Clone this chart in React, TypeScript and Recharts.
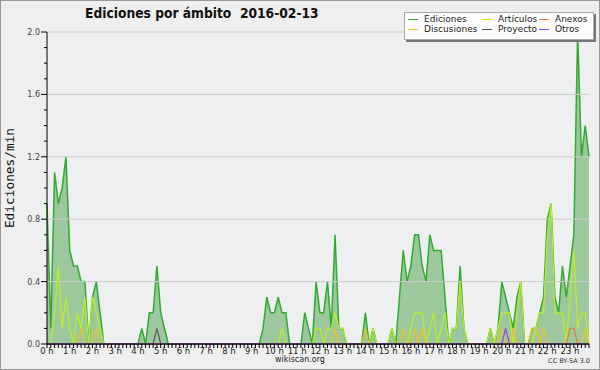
import { ComposedChart, Area, Line, XAxis, YAxis, ReferenceLine, CartesianGrid } from "recharts";

// one value per 10-minute slot, 144 slots (00:00 .. 23:50), edits/min
const ediciones = [
  0.9, 0.1, 1.1, 0.9, 1.0, 1.2, 0.6, 0.5, 0.5, 0.4, 0.4, 0,
  0.3, 0.4, 0.2, 0, 0, 0, 0, 0, 0, 0, 0, 0,
  0, 0.1, 0, 0.2, 0.2, 0.5, 0.2, 0.1, 0, 0, 0, 0,
  0, 0, 0, 0, 0, 0, 0, 0, 0, 0, 0, 0,
  0, 0, 0, 0, 0, 0, 0, 0, 0, 0.1, 0.3, 0.2,
  0.2, 0.3, 0.2, 0.2, 0, 0, 0, 0, 0.2, 0.1, 0, 0.4,
  0.2, 0.2, 0.4, 0.1, 0.7, 0.1, 0.1, 0, 0, 0, 0, 0,
  0.2, 0, 0.1, 0, 0, 0, 0, 0.1, 0, 0.3, 0.6, 0.4,
  0.5, 0.7, 0.7, 0.5, 0.4, 0.7, 0.6, 0.6, 0.6, 0.3, 0, 0.1,
  0.1, 0.5, 0.1, 0, 0, 0, 0, 0, 0, 0.1, 0, 0.1,
  0.4, 0.3, 0.2, 0.1, 0.3, 0.4, 0, 0, 0.1, 0.1, 0.2, 0.3,
  0.8, 0.9, 0.3, 0.2, 0.5, 0.3, 0.5, 0.7, 2.0, 1.2, 1.4, 1.2,
];

const articulos = [
  0, 0, 0.2, 0.5, 0.1, 0.3, 0.1, 0, 0.2, 0.1, 0.3, 0,
  0.3, 0.2, 0.1, 0, 0, 0, 0, 0, 0, 0, 0, 0,
  0, 0, 0, 0, 0, 0, 0, 0, 0, 0, 0, 0,
  0, 0, 0, 0, 0, 0, 0, 0, 0, 0, 0, 0,
  0, 0, 0, 0, 0, 0, 0, 0, 0, 0, 0, 0,
  0, 0, 0.1, 0, 0, 0, 0, 0, 0, 0, 0, 0.1,
  0.1, 0, 0.1, 0.1, 0.2, 0.1, 0.1, 0, 0, 0, 0, 0,
  0, 0, 0.1, 0, 0, 0, 0, 0.1, 0, 0, 0, 0,
  0.1, 0.2, 0.2, 0.2, 0, 0.1, 0.2, 0, 0.1, 0.2, 0, 0.1,
  0.1, 0.4, 0.1, 0, 0, 0, 0, 0, 0, 0.1, 0, 0.1,
  0.2, 0.2, 0.2, 0, 0.2, 0.4, 0, 0, 0, 0.1, 0.2, 0.2,
  0.7, 0.9, 0.2, 0.2, 0.2, 0, 0.3, 0.6, 0.1, 0.2, 0.2, 0,
];

const discusiones = [
  0, 0, 0, 0, 0, 0, 0, 0, 0, 0.1, 0, 0,
  0, 0.1, 0, 0, 0, 0, 0, 0, 0, 0, 0, 0,
  0, 0, 0, 0, 0, 0, 0, 0, 0, 0, 0, 0,
  0, 0, 0, 0, 0, 0, 0, 0, 0, 0, 0, 0,
  0, 0, 0, 0, 0, 0, 0, 0, 0, 0, 0, 0,
  0, 0, 0, 0, 0, 0, 0, 0, 0, 0, 0, 0,
  0, 0, 0, 0, 0.1, 0, 0, 0, 0, 0, 0, 0,
  0.1, 0, 0, 0, 0, 0, 0, 0, 0, 0, 0.1, 0,
  0, 0.1, 0, 0.1, 0, 0, 0, 0, 0, 0, 0, 0,
  0, 0, 0, 0, 0, 0, 0, 0, 0, 0, 0, 0,
  0.1, 0, 0, 0.1, 0, 0, 0, 0, 0.1, 0.1, 0, 0.1,
  0, 0, 0, 0, 0, 0, 0, 0, 0, 0, 0.1, 0,
];

const anexos = [
  0, 0, 0, 0, 0, 0, 0, 0, 0, 0, 0, 0,
  0, 0, 0, 0, 0, 0, 0, 0, 0, 0, 0, 0,
  0, 0, 0, 0, 0, 0, 0, 0, 0, 0, 0, 0,
  0, 0, 0, 0, 0, 0, 0, 0, 0, 0, 0, 0,
  0, 0, 0, 0, 0, 0, 0, 0, 0, 0, 0, 0,
  0, 0, 0, 0, 0, 0, 0, 0, 0, 0, 0, 0,
  0, 0, 0, 0, 0, 0, 0, 0, 0, 0, 0, 0,
  0, 0, 0, 0, 0, 0, 0, 0, 0, 0, 0, 0,
  0, 0, 0, 0, 0, 0, 0, 0, 0, 0, 0, 0,
  0, 0, 0, 0, 0, 0, 0, 0, 0, 0, 0, 0,
  0, 0, 0, 0, 0, 0, 0, 0, 0, 0, 0, 0,
  0, 0, 0, 0, 0, 0, 0.1, 0.1, 0, 0, 0, 0,
];

const proyecto = [
  0, 0, 0, 0, 0, 0, 0, 0, 0, 0, 0, 0,
  0, 0, 0, 0, 0, 0, 0, 0, 0, 0, 0, 0,
  0, 0, 0, 0, 0, 0.1, 0, 0, 0, 0, 0, 0,
  0, 0, 0, 0, 0, 0, 0, 0, 0, 0, 0, 0,
  0, 0, 0, 0, 0, 0, 0, 0, 0, 0, 0, 0,
  0, 0, 0, 0, 0, 0, 0, 0, 0, 0, 0, 0,
  0, 0, 0, 0, 0, 0, 0, 0, 0, 0, 0, 0,
  0, 0, 0, 0, 0, 0, 0, 0, 0, 0, 0, 0,
  0, 0, 0, 0, 0, 0, 0, 0, 0, 0, 0, 0,
  0, 0, 0, 0, 0, 0, 0, 0, 0, 0, 0, 0,
  0, 0, 0, 0, 0, 0, 0, 0, 0, 0, 0, 0,
  0, 0, 0, 0, 0, 0, 0, 0, 0, 0, 0, 0,
];

const otros = [
  0, 0, 0, 0, 0, 0, 0, 0, 0, 0, 0, 0,
  0, 0, 0, 0, 0, 0, 0, 0, 0, 0, 0, 0,
  0, 0, 0, 0, 0, 0, 0, 0, 0, 0, 0, 0,
  0, 0, 0, 0, 0, 0, 0, 0, 0, 0, 0, 0,
  0, 0, 0, 0, 0, 0, 0, 0, 0, 0, 0, 0,
  0, 0, 0, 0, 0, 0, 0, 0, 0, 0, 0, 0,
  0, 0, 0, 0, 0, 0, 0, 0, 0, 0, 0, 0,
  0, 0, 0, 0, 0, 0, 0, 0, 0, 0, 0, 0,
  0, 0, 0, 0, 0, 0, 0, 0, 0, 0, 0, 0,
  0, 0, 0, 0, 0, 0, 0, 0, 0, 0, 0, 0,
  0, 0.1, 0, 0, 0, 0, 0, 0, 0, 0, 0, 0,
  0, 0, 0, 0, 0, 0, 0, 0, 0, 0, 0, 0,
];

const hourLabels = [
  "0 h", "1 h", "2 h", "3 h", "4 h", "5 h", "6 h", "7 h", "8 h", "9 h", "10 h", "11 h",
  "12 h", "13 h", "14 h", "15 h", "16 h", "17 h", "18 h", "19 h", "20 h", "21 h", "22 h", "23 h",
];
const yTicks = [0, 0.1, 0.2, 0.3, 0.4, 0.5, 0.6, 0.7, 0.8, 0.9, 1.0, 1.1, 1.2, 1.3, 1.4, 1.5, 1.6, 1.7, 1.8, 1.9, 2.0];
const gridValues = [0.4, 0.8, 1.2, 1.6, 2.0];

const SLOTS_PER_HOUR = 6;
const slots = ediciones.map((_, i) => i);

const series = [
  { key: "ed", name: "Ediciones", color: "#33aa33" },
  { key: "art", name: "Artículos", color: "#bbee22" },
  { key: "anx", name: "Anexos", color: "#ee7733" },
  { key: "disc", name: "Discusiones", color: "#eec222" },
  { key: "proj", name: "Proyecto", color: "#555555" },
  { key: "otr", name: "Otros", color: "#8844ee" },
];

const chartData = slots.map(i => ({
  i,
  ed: ediciones[i],
  art: articulos[i],
  disc: discusiones[i],
  anx: anexos[i],
  proj: proyecto[i],
  otr: otros[i],
}));

const FONT = "'DejaVu Sans', sans-serif";

const XTick = (props: any) => {
  const { x, y, payload } = props;
  const v = payload.value;
  const major = v % SLOTS_PER_HOUR === 0;
  return (
    <g>
      <line x1={x} x2={x} y1={y} y2={y + 4} stroke="#000" />
      {major && (
        <text x={x} y={y + 10} textAnchor="middle" fontSize={8.5} fill="#222" fontFamily={FONT}>
          {hourLabels[v / SLOTS_PER_HOUR]}
        </text>
      )}
    </g>
  );
};

const YTick = (props: any) => {
  const { x, y, payload } = props;
  const v = payload.value;
  const major = Math.round(v * 10) % 4 === 0;
  return (
    <g>
      <line x1={x - (major ? 6 : 3)} x2={x} y1={y} y2={y} stroke="#000" />
      {major && (
        <text x={x - 7} y={y + 3} textAnchor="end" fontSize={8} fill="#444" fontFamily={FONT}>
          {v.toFixed(1)}
        </text>
      )}
    </g>
  );
};

const App = () => {
  return (
    <div style={{ position: "relative", width: 600, height: 370, background: "#efefef", fontFamily: FONT }}>
      <style>{"body{margin:0}"}</style>
      <ComposedChart width={600} height={370} data={chartData} margin={{ top: 32, right: 11, bottom: 0, left: 0 }}>
        <CartesianGrid horizontal={false} vertical={false} fill="#eeeff1" />
        {gridValues.map(v => (
          <ReferenceLine key={v} y={v} stroke="#cccccc" strokeWidth={1} />
        ))}
        <XAxis
          dataKey="i"
          type="number"
          domain={[0, slots.length - 1]}
          ticks={slots}
          interval={0}
          height={26}
          tickSize={0}
          tickMargin={0}
          tickLine={false}
          axisLine={{ stroke: "#000" }}
          tick={<XTick />}
        />
        <YAxis
          type="number"
          domain={[0, 2]}
          ticks={yTicks}
          interval={0}
          width={47}
          tickSize={0}
          tickMargin={0}
          tickLine={false}
          axisLine={{ stroke: "#000" }}
          tick={<YTick />}
        />
        <Area
          type="linear"
          dataKey="ed"
          stroke="#33aa33"
          strokeWidth={1.5}
          fill="#3a9a3a"
          fillOpacity={0.45}
          dot={false}
          activeDot={false}
          isAnimationActive={false}
        />
        <Line type="linear" dataKey="art" stroke="#bbee22" strokeWidth={1.2} dot={false} activeDot={false} isAnimationActive={false} />
        <Line type="linear" dataKey="disc" stroke="#eec222" strokeWidth={1.2} dot={false} activeDot={false} isAnimationActive={false} />
        <Line type="linear" dataKey="anx" stroke="#ee7733" strokeWidth={1.2} dot={false} activeDot={false} isAnimationActive={false} />
        <Line type="linear" dataKey="proj" stroke="#555555" strokeWidth={1.2} dot={false} activeDot={false} isAnimationActive={false} />
        <Line type="linear" dataKey="otr" stroke="#8844ee" strokeWidth={1.2} dot={false} activeDot={false} isAnimationActive={false} />
      </ComposedChart>

      <div
        style={{
          position: "absolute",
          left: 85,
          top: 5,
          fontFamily: "'DejaVu Sans Condensed', 'DejaVu Sans', sans-serif",
          fontStretch: "condensed",
          fontSize: 13.7,
          fontWeight: "bold",
          color: "#111",
          whiteSpace: "pre",
        }}
      >
        {"Ediciones por ámbito  2016-02-13"}
      </div>

      <div
        style={{
          position: "absolute",
          left: 0,
          top: 178,
          transform: "translate(-50%, -50%) rotate(-90deg)",
          marginLeft: 9,
          fontFamily: "'DejaVu Sans Mono', monospace",
          fontSize: 12.8,
          color: "#111",
          whiteSpace: "nowrap",
        }}
      >
        Ediciones/min
      </div>

      <div
        style={{
          position: "absolute",
          left: 404,
          top: 12,
          width: 188,
          height: 26,
          background: "#fdfdfd",
          border: "1px solid #aaa",
          boxShadow: "2px 2px 0 #777",
          fontSize: 9,
          color: "#222",
        }}
      >
        {series.map((s, idx) => {
          const col = idx % 3;
          const row = Math.floor(idx / 3);
          const colX = [3, 77, 134][col];
          return (
            <div key={s.key} style={{ position: "absolute", left: colX, top: 1 + row * 10, height: 11, lineHeight: "11px", whiteSpace: "nowrap" }}>
              <span style={{ display: "inline-block", width: 10, height: 1, background: s.color, verticalAlign: "middle", marginRight: 6 }} />
              {s.name}
            </div>
          );
        })}
      </div>

      <div style={{ position: "absolute", left: 0, width: 600, top: 355, textAlign: "center", fontSize: 8, color: "#222" }}>
        wikiscan.org
      </div>
      <div style={{ position: "absolute", right: 10, top: 357, fontSize: 6.5, color: "#333" }}>
        CC BY-SA 3.0
      </div>
      <div style={{ position: "absolute", left: 0, top: 0, width: 600, height: 370, boxSizing: "border-box", border: "1px solid #9a9a9a", pointerEvents: "none" }} />
    </div>
  );
};

export default App;
